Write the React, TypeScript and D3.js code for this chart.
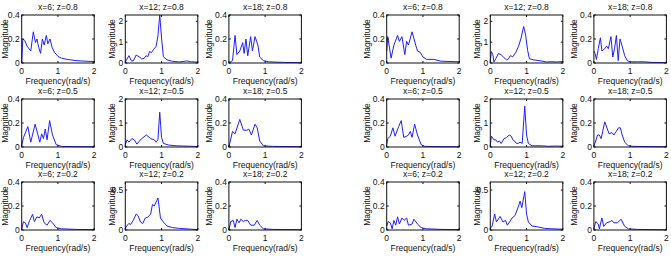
import React from 'react';
import * as d3 from 'd3';

type Pt = [number, number];

// spans (x) and damping (z) shown in each grid
const spans = [6, 12, 18];
const dampings = [0.8, 0.5, 0.2];
const freqTicks = [0, 1, 2];

// y-axis limits / ticks per row (z) for each column (x)
const yMaxByCol = [
  [0.4, 0.4, 0.4],
  [2.3, 2, 0.6],
  [0.4, 0.4, 0.4],
];
const yTicksByCol = [
  [[0, 0.2, 0.4], [0, 0.2, 0.4], [0, 0.2, 0.4]],
  [[0, 1, 2], [0, 1, 2], [0, 0.5]],
  [[0, 0.2, 0.4], [0, 0.2, 0.4], [0, 0.2, 0.4]],
];

// ---- first set of spectra ----
const a_x6_z08: Pt[] = [[0, 0], [0.03, 0.2], [0.08, 0.19], [0.15, 0.14], [0.25, 0.1], [0.32, 0.26], [0.38, 0.17], [0.42, 0.2], [0.47, 0.13], [0.52, 0.08], [0.57, 0.2], [0.62, 0.15], [0.68, 0.23], [0.72, 0.16], [0.78, 0.2], [0.84, 0.13], [0.9, 0.09], [1.0, 0.055], [1.1, 0.04], [1.25, 0.03], [1.5, 0.02], [1.75, 0.015], [2, 0.012]];
const a_x12_z08: Pt[] = [[0, 0.05], [0.1, 0.35], [0.17, 0.1], [0.22, 0.1], [0.3, 0.38], [0.38, 0.3], [0.45, 0.2], [0.52, 0.22], [0.57, 0.35], [0.62, 0.3], [0.67, 0.55], [0.72, 0.5], [0.78, 0.65], [0.85, 0.8], [0.9, 1.3], [0.95, 2.3], [1.0, 1.2], [1.05, 0.3], [1.15, 0.15], [1.3, 0.08], [1.5, 0.05], [1.7, 0.1], [1.8, 0.06], [2, 0.04]];
const a_x18_z08: Pt[] = [[0, 0], [0.1, 0.02], [0.17, 0.23], [0.22, 0.07], [0.3, 0.1], [0.38, 0.17], [0.42, 0.08], [0.47, 0.2], [0.52, 0.06], [0.6, 0.22], [0.65, 0.1], [0.72, 0.22], [0.8, 0.15], [0.85, 0.05], [0.95, 0.02], [1.1, 0.01], [1.5, 0.005], [2, 0.003]];
const a_x6_z05: Pt[] = [[0, 0.01], [0.05, 0.08], [0.17, 0.17], [0.25, 0.04], [0.37, 0.19], [0.45, 0.1], [0.5, 0.04], [0.55, 0.11], [0.6, 0.07], [0.65, 0.15], [0.7, 0.06], [0.77, 0.22], [0.85, 0.1], [0.95, 0.02], [1.1, 0.005], [1.5, 0.003], [2, 0.002]];
const a_x12_z05: Pt[] = [[0, 0.1], [0.05, 0.3], [0.1, 0.2], [0.18, 0.35], [0.25, 0.3], [0.32, 0.12], [0.45, 0.35], [0.58, 0.5], [0.7, 0.35], [0.8, 0.3], [0.85, 0.2], [0.9, 0.3], [0.95, 1.45], [1.0, 0.4], [1.05, 0.15], [1.2, 0.08], [1.4, 0.05], [1.6, 0.04], [1.8, 0.03], [2, 0.02]];
const a_x18_z05: Pt[] = [[0, 0], [0.1, 0.13], [0.17, 0.11], [0.3, 0.23], [0.4, 0.14], [0.5, 0.14], [0.55, 0.15], [0.62, 0.1], [0.72, 0.19], [0.78, 0.16], [0.85, 0.05], [0.95, 0.01], [1.2, 0.005], [2, 0.003]];
const a_x6_z02: Pt[] = [[0, 0.01], [0.05, 0.07], [0.1, 0.06], [0.15, 0.02], [0.22, 0.08], [0.3, 0.13], [0.35, 0.07], [0.42, 0.11], [0.48, 0.1], [0.55, 0.13], [0.62, 0.06], [0.7, 0.04], [0.78, 0.08], [0.85, 0.06], [0.95, 0.02], [1.1, 0.01], [1.5, 0.005], [2, 0.003]];
const a_x12_z02: Pt[] = [[0, 0.02], [0.05, 0.06], [0.1, 0.08], [0.15, 0.07], [0.22, 0.12], [0.3, 0.2], [0.35, 0.18], [0.42, 0.1], [0.48, 0.08], [0.55, 0.15], [0.62, 0.16], [0.7, 0.2], [0.75, 0.32], [0.8, 0.3], [0.85, 0.35], [0.9, 0.4], [0.93, 0.3], [0.97, 0.15], [1.05, 0.1], [1.15, 0.05], [1.3, 0.03], [1.5, 0.02], [1.8, 0.01], [2, 0.005]];
const a_x18_z02: Pt[] = [[0, 0], [0.05, 0.07], [0.12, 0.08], [0.17, 0.02], [0.22, 0.09], [0.28, 0.06], [0.33, 0.09], [0.4, 0.07], [0.45, 0.08], [0.52, 0.08], [0.6, 0.04], [0.7, 0.04], [0.78, 0.08], [0.85, 0.04], [0.95, 0.01], [1.2, 0.005], [2, 0.003]];

// ---- second set of spectra ----
const b_x6_z08: Pt[] = [[0, 0.1], [0.03, 0.22], [0.12, 0.04], [0.2, 0.15], [0.3, 0.23], [0.35, 0.18], [0.42, 0.22], [0.5, 0.07], [0.55, 0.18], [0.6, 0.15], [0.7, 0.26], [0.8, 0.15], [0.85, 0.1], [0.92, 0.09], [1.0, 0.05], [1.1, 0.03], [1.3, 0.03], [1.5, 0.015], [2, 0.01]];
const b_x12_z08: Pt[] = [[0, 0.1], [0.03, 0.55], [0.07, 0.4], [0.1, 0.05], [0.15, 0.2], [0.22, 0.45], [0.3, 0.4], [0.38, 0.25], [0.45, 0.15], [0.5, 0.2], [0.55, 0.35], [0.62, 0.3], [0.7, 0.5], [0.78, 0.8], [0.85, 1.2], [0.92, 1.75], [0.97, 1.4], [1.03, 0.6], [1.08, 0.2], [1.2, 0.15], [1.4, 0.1], [1.55, 0.05], [1.7, 0.06], [1.85, 0.05], [2, 0.07]];
const b_x18_z08: Pt[] = [[0, 0.1], [0.03, 0.08], [0.07, 0.03], [0.12, 0.12], [0.18, 0.21], [0.22, 0.1], [0.3, 0.12], [0.35, 0.14], [0.4, 0.12], [0.47, 0.22], [0.52, 0.05], [0.57, 0.12], [0.62, 0.23], [0.67, 0.02], [0.72, 0.2], [0.77, 0.15], [0.85, 0.06], [0.92, 0.02], [1.0, 0.01], [1.2, 0.01], [1.4, 0.01], [1.6, 0.005], [2, 0.003]];
const b_x6_z05: Pt[] = [[0, 0.02], [0.03, 0.07], [0.1, 0.09], [0.17, 0.16], [0.23, 0.09], [0.33, 0.17], [0.4, 0.22], [0.47, 0.08], [0.55, 0.09], [0.6, 0.1], [0.65, 0.13], [0.7, 0.08], [0.77, 0.19], [0.85, 0.1], [0.95, 0.02], [1.05, 0.005], [1.5, 0.003], [2, 0.002]];
const b_x12_z05: Pt[] = [[0, 0.05], [0.03, 0.45], [0.1, 0.3], [0.15, 0.3], [0.2, 0.2], [0.25, 0.25], [0.3, 0.15], [0.38, 0.35], [0.45, 0.4], [0.52, 0.5], [0.58, 0.45], [0.62, 0.3], [0.67, 0.25], [0.72, 0.15], [0.77, 0.15], [0.82, 0.2], [0.88, 0.15], [0.95, 1.7], [1.0, 0.5], [1.05, 0.15], [1.15, 0.05], [1.4, 0.05], [1.6, 0.03], [1.8, 0.04], [2, 0.03]];
const b_x18_z05: Pt[] = [[0, 0.01], [0.05, 0.05], [0.1, 0.1], [0.15, 0.1], [0.2, 0.07], [0.3, 0.21], [0.37, 0.15], [0.42, 0.11], [0.5, 0.12], [0.55, 0.1], [0.62, 0.13], [0.68, 0.16], [0.73, 0.16], [0.78, 0.1], [0.85, 0.04], [0.95, 0.01], [1.1, 0.005], [2, 0.002]];
const b_x6_z02: Pt[] = [[0, 0.03], [0.04, 0.07], [0.1, 0.06], [0.15, 0.01], [0.2, 0.08], [0.25, 0.04], [0.3, 0.11], [0.35, 0.05], [0.42, 0.1], [0.48, 0.08], [0.55, 0.1], [0.6, 0.04], [0.7, 0.05], [0.75, 0.09], [0.85, 0.05], [0.95, 0.02], [1.1, 0.01], [1.5, 0.005], [2, 0.003]];
const b_x12_z02: Pt[] = [[0, 0.02], [0.05, 0.05], [0.12, 0.2], [0.17, 0.1], [0.27, 0.17], [0.35, 0.1], [0.42, 0.12], [0.47, 0.06], [0.53, 0.1], [0.6, 0.15], [0.68, 0.18], [0.78, 0.3], [0.82, 0.36], [0.87, 0.28], [0.95, 0.48], [1.0, 0.2], [1.05, 0.1], [1.15, 0.05], [1.3, 0.04], [1.5, 0.02], [1.7, 0.015], [2, 0.01]];
const b_x18_z02: Pt[] = [[0, 0.01], [0.05, 0.07], [0.12, 0.05], [0.15, 0.01], [0.22, 0.1], [0.27, 0.03], [0.35, 0.06], [0.45, 0.07], [0.5, 0.08], [0.55, 0.06], [0.65, 0.06], [0.75, 0.09], [0.85, 0.03], [0.95, 0.01], [1.2, 0.005], [2, 0.002]];

// rows = damping, columns = span
const setA: Pt[][][] = [
  [a_x6_z08, a_x12_z08, a_x18_z08],
  [a_x6_z05, a_x12_z05, a_x18_z05],
  [a_x6_z02, a_x12_z02, a_x18_z02],
];
const setB: Pt[][][] = [
  [b_x6_z08, b_x12_z08, b_x18_z08],
  [b_x6_z05, b_x12_z05, b_x18_z05],
  [b_x6_z02, b_x12_z02, b_x18_z02],
];

const WIDTH = 671;
const HEIGHT = 259;
const groupLeft = [21.7, 386.7];
const colStep = 103.6;
const rowTop = [15, 99, 182];
const axW = 72.5;
const axH = 48;
const FONT = '"Liberation Sans", Arial, Helvetica, sans-serif';
const fs = 8.5;

const fmt = (v: number) => (v === 0 ? '0' : String(v));

const Panel: React.FC<{ x0: number; y0: number; data: Pt[]; col: number; row: number }> = ({ x0, y0, data, col, row }) => {
  const x = d3.scaleLinear().domain([0, 2]).range([x0, x0 + axW]);
  const y = d3.scaleLinear().domain([0, yMaxByCol[col][row]]).range([y0 + axH, y0]);
  const line = d3.line<Pt>().x(d => x(d[0])).y(d => y(d[1]));
  const yTicks = yTicksByCol[col][row];
  // keep the y label inside the page on the far-left panels
  const ylabX = Math.max(x0 - (col === 1 ? 13 : 20), 4.6);
  const tl = 2;
  return (
    <g>
      <text x={x0 + axW / 2} y={y0 - 5.5} textAnchor="middle" fontSize={fs} fill="#111">
        {`x=${spans[col]}; z=${dampings[row]}`}
      </text>
      <path d={line(data) || ''} fill="none" stroke="#1f1fff" strokeWidth={1} strokeLinejoin="round" />
      <rect x={x0} y={y0} width={axW} height={axH} fill="none" stroke="#111" strokeWidth={1} />
      {freqTicks.map(t => (
        <g key={'x' + t}>
          <line x1={x(t)} x2={x(t)} y1={y0 + axH} y2={y0 + axH - tl} stroke="#111" />
          <line x1={x(t)} x2={x(t)} y1={y0} y2={y0 + tl} stroke="#111" />
          <text x={x(t)} y={y0 + axH + 10.5} textAnchor="middle" fontSize={fs} fill="#111">{t}</text>
        </g>
      ))}
      {yTicks.map(t => (
        <g key={'y' + t}>
          <line x1={x0} x2={x0 + tl} y1={y(t)} y2={y(t)} stroke="#111" />
          <line x1={x0 + axW} x2={x0 + axW - tl} y1={y(t)} y2={y(t)} stroke="#111" />
          <text x={x0 - 2} y={y(t) + 3} textAnchor="end" fontSize={fs} fill="#111">{fmt(t)}</text>
        </g>
      ))}
      <text x={x0 + axW / 2} y={y0 + axH + 20.5} textAnchor="middle" fontSize={fs} fill="#111">Frequency(rad/s)</text>
      <text
        transform={`translate(${ylabX},${y0 + axH / 2}) rotate(-90)`}
        textAnchor="middle"
        dy="0.35em"
        fontSize={fs}
        fill="#111"
      >
        Magnitude
      </text>
    </g>
  );
};

const App: React.FC = () => {
  const sets = [setA, setB];
  return (
    <div style={{ position: 'fixed', left: 0, top: 0 }}>
      <svg width={WIDTH} height={HEIGHT} viewBox={`0 0 ${WIDTH} ${HEIGHT}`} style={{ display: 'block', background: '#fff', fontFamily: FONT }}>
        {sets.map((set, g) =>
          set.map((rowData, r) =>
            rowData.map((d, c) => (
              <Panel key={`${g}-${r}-${c}`} x0={groupLeft[g] + c * colStep} y0={rowTop[r]} data={d} col={c} row={r} />
            ))
          )
        )}
      </svg>
    </div>
  );
};

export default App;
